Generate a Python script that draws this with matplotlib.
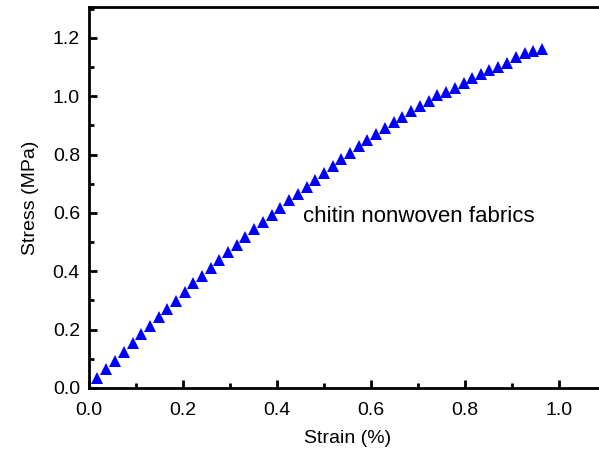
import matplotlib
matplotlib.use("Agg")
import matplotlib.pyplot as plt
from matplotlib.ticker import MultipleLocator

strain = [0.0, 0.0163, 0.0355, 0.0546, 0.0738, 0.0929, 0.1113, 0.1298, 0.1482, 0.1667,
          0.185, 0.2035, 0.222, 0.2397, 0.2589, 0.2773, 0.2965, 0.3142, 0.3326, 0.351,
          0.370, 0.3887, 0.407, 0.4248, 0.4447, 0.4631, 0.4816, 0.500, 0.5184, 0.5369,
          0.5553, 0.5738, 0.5922, 0.6113, 0.6298, 0.6482, 0.6667, 0.685, 0.704, 0.7227,
          0.741, 0.7596, 0.7787, 0.797, 0.8156, 0.834, 0.852, 0.871, 0.889, 0.9085,
          0.927, 0.9454, 0.964]
stress = [0.0, 0.033, 0.064, 0.094, 0.124, 0.153, 0.184, 0.212, 0.242, 0.271,
          0.299, 0.328, 0.359, 0.383, 0.411, 0.438, 0.465, 0.491, 0.517, 0.544,
          0.569, 0.594, 0.618, 0.644, 0.664, 0.688, 0.713, 0.736, 0.761, 0.784,
          0.807, 0.830, 0.850, 0.872, 0.890, 0.911, 0.929, 0.950, 0.967, 0.985,
          1.004, 1.014, 1.030, 1.045, 1.062, 1.075, 1.089, 1.100, 1.115, 1.133,
          1.147, 1.156, 1.162]

plt.rcParams['font.family'] = ['Liberation Sans', 'DejaVu Sans']

fig = plt.figure(figsize=(5.99, 4.57), dpi=100)
xmax = 1.1
left = 89 / 599
width = xmax * 470 / 599
bottom = (457 - 388) / 457
top = (457 - 7) / 457
ax = fig.add_axes([left, bottom, width, top - bottom])

ax.plot(strain, stress, linestyle='none', marker='^', color='#0000ff',
        markersize=8, markeredgewidth=0, clip_on=True, zorder=2)

ax.set_xlim(0, xmax)
ax.set_ylim(0, 1.306)
ax.xaxis.set_minor_locator(MultipleLocator(0.1))
ax.yaxis.set_minor_locator(MultipleLocator(0.1))
ax.set_xticks([0.0, 0.2, 0.4, 0.6, 0.8, 1.0])
ax.set_yticks([0.0, 0.2, 0.4, 0.6, 0.8, 1.0, 1.2])
ax.set_xticklabels(['0.0', '0.2', '0.4', '0.6', '0.8', '1.0'])
ax.set_yticklabels(['0.0', '0.2', '0.4', '0.6', '0.8', '1.0', '1.2'])

ax.tick_params(which='both', direction='in', width=2, labelsize=14, colors='black')
ax.tick_params(which='major', length=6)
ax.tick_params(axis='x', which='major', pad=10)
ax.tick_params(axis='y', which='major', pad=6.5)
ax.tick_params(which='minor', length=3.5)
ax.tick_params(top=False, right=False, which='both')
for s in ax.spines.values():
    s.set_linewidth(2)

ax.set_xlabel('Strain (%)', fontsize=14, labelpad=8)
ax.set_ylabel('Stress (MPa)', fontsize=14, labelpad=10)

ax.text(0.455, 0.569, 'chitin nonwoven fabrics', fontsize=16, va='baseline', ha='left')

fig.savefig('out.png', dpi=100)
